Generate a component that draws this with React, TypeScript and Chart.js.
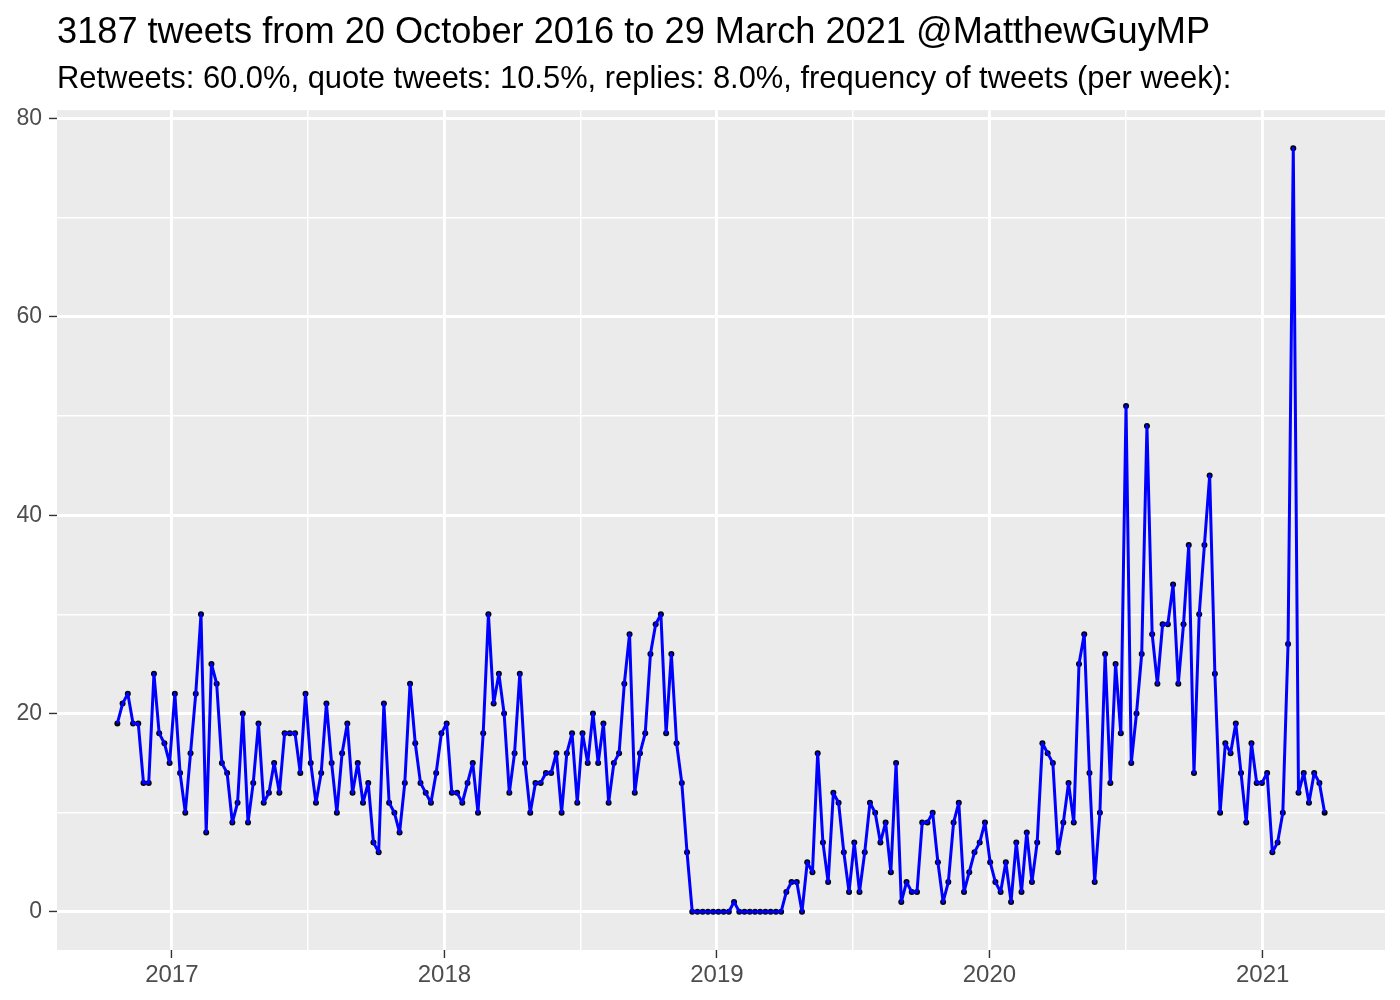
import React, { useEffect, useRef } from "react";
import { Chart, registerables } from "chart.js";

Chart.register(...registerables);

// ---- data ----
const firstWeekStart = { year: 2016, month: 10, day: 20 }; // weekly bins start 20 Oct 2016
const tweetsPerWeek: number[] = [
  19, 21, 22, 19, 19, 13, 13, 24, 18, 17,
  15, 22, 14, 10, 16, 22, 30, 8, 25, 23,
  15, 14, 9, 11, 20, 9, 13, 19, 11, 12,
  15, 12, 18, 18, 18, 14, 22, 15, 11, 14,
  21, 15, 10, 16, 19, 12, 15, 11, 13, 7,
  6, 21, 11, 10, 8, 13, 23, 17, 13, 12,
  11, 14, 18, 19, 12, 12, 11, 13, 15, 10,
  18, 30, 21, 24, 20, 12, 16, 24, 15, 10,
  13, 13, 14, 14, 16, 10, 16, 18, 11, 18,
  15, 20, 15, 19, 11, 15, 16, 23, 28, 12,
  16, 18, 26, 29, 30, 18, 26, 17, 13, 6,
  0, 0, 0, 0, 0, 0, 0, 0, 1, 0,
  0, 0, 0, 0, 0, 0, 0, 0, 2, 3,
  3, 0, 5, 4, 16, 7, 3, 12, 11, 6,
  2, 7, 2, 6, 11, 10, 7, 9, 4, 15,
  1, 3, 2, 2, 9, 9, 10, 5, 1, 3,
  9, 11, 2, 4, 6, 7, 9, 5, 3, 2,
  5, 1, 7, 2, 8, 3, 7, 17, 16, 15,
  6, 9, 13, 9, 25, 28, 14, 3, 10, 26,
  13, 25, 18, 51, 15, 20, 26, 49, 28, 23,
  29, 29, 33, 23, 29, 37, 14, 30, 37, 44,
  24, 10, 17, 16, 19, 14, 9, 17, 13, 13,
  14, 6, 7, 10, 27, 77, 12, 14, 11, 14,
  13, 10,
];
const xYearTicks: number[] = [2017, 2018, 2019, 2020, 2021];
const yTickValues: number[] = [0, 10, 20, 30, 40, 50, 60, 70, 80];
const yTickLabels: number[] = [0, 20, 40, 60, 80];
const titleText = "3187 tweets from 20 October 2016 to 29 March 2021 @MatthewGuyMP";
const subtitleText =
  "Retweets: 60.0%, quote tweets: 10.5%, replies: 8.0%, frequency of tweets (per week):";

// ---- helpers ----
const DAY = 86400000;
const EPOCH = Date.UTC(2017, 0, 1);
const dayNum = (y: number, m: number, d: number) => (Date.UTC(y, m - 1, d) - EPOCH) / DAY;
const startDay = dayNum(firstWeekStart.year, firstWeekStart.month, firstWeekStart.day);
const weekDays = tweetsPerWeek.map((_, i) => startDay + i * 7);

const majorX = xYearTicks.map((y) => dayNum(y, 1, 1));
const minorX = majorX.slice(0, -1).map((v, i) => (v + majorX[i + 1]) / 2);
const allX = [...majorX, ...minorX].sort((a, b) => a - b);

const xLo = weekDays[0];
const xHi = weekDays[weekDays.length - 1];
const xPad = (xHi - xLo) * 0.05;
const yLo = Math.min(...tweetsPerWeek);
const yHi = Math.max(...tweetsPerWeek);
const yPad = (yHi - yLo) * 0.05;

const FONT = "'Liberation Sans', Arial, Helvetica, sans-serif";

const isMajorX = (v: number) => majorX.some((m) => Math.abs(m - v) < 1e-6);
const isMajorY = (v: number) => yTickLabels.includes(v);

const panelBg = {
  id: "panelBg",
  beforeDraw(chart: any) {
    const { ctx, chartArea } = chart;
    if (!chartArea) return;
    ctx.save();
    ctx.fillStyle = "#EBEBEB";
    ctx.fillRect(chartArea.left, chartArea.top, chartArea.right - chartArea.left, chartArea.bottom - chartArea.top);
    ctx.restore();
  },
};

export default function App() {
  const canvasRef = useRef<HTMLCanvasElement | null>(null);

  useEffect(() => {
    if (!canvasRef.current) return;
    const pts = weekDays.map((d, i) => ({ x: d, y: tweetsPerWeek[i] }));
    const chart = new Chart(canvasRef.current, {
      type: "line",
      data: {
        datasets: [
          {
            label: "tweets",
            data: pts,
            borderColor: "#0000FF",
            borderWidth: 3,
            pointRadius: 0,
            tension: 0,
            borderJoinStyle: "round",
            fill: false,
            order: 1,
          },
          {
            label: "points",
            data: pts,
            showLine: false,
            pointRadius: 3,
            pointBackgroundColor: "#000000",
            pointBorderWidth: 0,
            pointBorderColor: "#000000",
            order: 2,
          },
        ],
      },
      options: {
        responsive: false,
        animation: false,
        devicePixelRatio: 1,
        layout: { padding: { left: 0, right: 15, top: 0, bottom: 0 } },
        plugins: {
          legend: { display: false },
          tooltip: { enabled: false },
          title: {
            display: true,
            text: titleText,
            align: "start",
            fullSize: false,
            color: "#000000",
            font: { family: FONT, size: 36.2, weight: "normal", lineHeight: 1 },
            padding: { top: 15, bottom: 0 },
          },
          subtitle: {
            display: true,
            text: subtitleText,
            align: "start",
            fullSize: false,
            color: "#000000",
            font: { family: FONT, size: 30.9, weight: "normal", lineHeight: 1 },
            padding: { top: 13, bottom: 15 },
          },
        },
        scales: {
          x: {
            type: "linear",
            min: xLo - xPad,
            max: xHi + xPad,
            afterBuildTicks: (s: any) => {
              s.ticks = allX.map((v) => ({ value: v }));
            },
            afterFit: (s: any) => {
              s.height = 50;
            },
            border: { display: false },
            grid: {
              color: "#FFFFFF",
              lineWidth: (c: any) => (c.tick && isMajorX(c.tick.value) ? 2.9 : 1.45),
              drawTicks: true,
              tickLength: 8,
              tickWidth: 1.4,
              tickColor: (c: any) => (c.tick && isMajorX(c.tick.value) ? "#333333" : "rgba(0,0,0,0)"),
            },
            ticks: {
              autoSkip: false,
              maxRotation: 0,
              minRotation: 0,
              padding: 3,
              color: "#4D4D4D",
              font: { family: FONT, size: 24 },
              callback: (v: any) => {
                const i = majorX.findIndex((m) => Math.abs(m - v) < 1e-6);
                return i >= 0 ? String(xYearTicks[i]) : "";
              },
            },
          },
          y: {
            type: "linear",
            min: yLo - yPad,
            max: yHi + yPad,
            afterBuildTicks: (s: any) => {
              s.ticks = yTickValues.map((v) => ({ value: v }));
            },
            afterFit: (s: any) => {
              s.width = 57;
            },
            border: { display: false },
            grid: {
              color: "#FFFFFF",
              lineWidth: (c: any) => (c.tick && isMajorY(c.tick.value) ? 2.9 : 1.45),
              drawTicks: true,
              tickLength: 8,
              tickWidth: 1.4,
              tickColor: (c: any) => (c.tick && isMajorY(c.tick.value) ? "#333333" : "rgba(0,0,0,0)"),
            },
            ticks: {
              autoSkip: false,
              padding: 7,
              color: "#4D4D4D",
              font: { family: FONT, size: 23 },
              callback: (v: any) => (isMajorY(v) ? String(v) : ""),
            },
          },
        },
      } as any,
      plugins: [panelBg],
    });
    return () => chart.destroy();
  }, []);

  return (
    <div style={{ position: "absolute", left: 0, top: 0, width: 1400, height: 1000, background: "#FFFFFF" }}>
      <canvas ref={canvasRef} width={1400} height={1000} style={{ display: "block", width: 1400, height: 1000 }} />
    </div>
  );
}
